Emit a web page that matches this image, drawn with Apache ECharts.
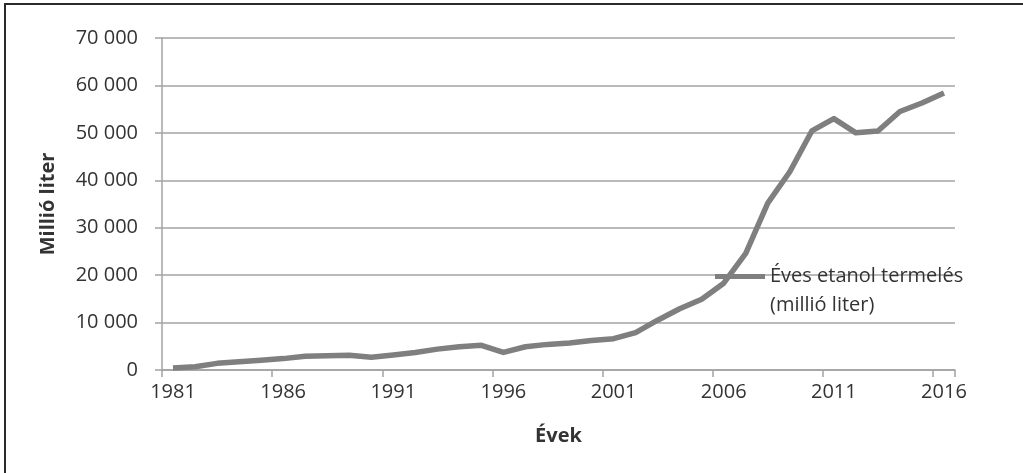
<!DOCTYPE html>
<html>
<head>
<meta charset="utf-8">
<script src="https://cdn.jsdelivr.net/npm/echarts@6/dist/echarts.min.js"></script>
<style>
  html, body { margin: 0; padding: 0; background: #ffffff; }
  #chart { width: 1023px; height: 473px; }
</style>
</head>
<body>
<div id="chart"></div>
<script>
// Annual ethanol production, million litres
const years = [
  '1981','1982','1983','1984','1985','1986','1987','1988','1989','1990',
  '1991','1992','1993','1994','1995','1996','1997','1998','1999','2000',
  '2001','2002','2003','2004','2005','2006','2007','2008','2009','2010',
  '2011','2012','2013','2014','2015','2016'
];
const production = [
  400, 700, 1400, 1750, 2050, 2400, 2900, 3000, 3100, 2700,
  3150, 3700, 4400, 4900, 5200, 3700, 4900, 5400, 5700, 6200,
  6600, 7900, 10500, 12900, 14900, 18300, 24600, 35200, 41800, 50400,
  53000, 50000, 50400, 54500, 56300, 58400
];
const yTickLabels = ['0', '10 000', '20 000', '30 000', '40 000', '50 000', '60 000', '70 000'];

const seriesName = 'Éves etanol termelés (millió liter)';
const FONT = '"Open Sans", sans-serif';
const TEXT = '#333333';
const GRID = '#a3a3a3';
const LINE = '#7f7f7f';
const LEGEND_LH = 29;

const chart = echarts.init(document.getElementById('chart'));
chart.setOption({
  animation: false,
  backgroundColor: '#ffffff',
  textStyle: { fontFamily: FONT },
  graphic: [{
    type: 'rect',
    shape: { x: 5, y: 4, width: 1040, height: 490 },
    style: { fill: 'none', stroke: '#2b2b2b', lineWidth: 2 },
    silent: true
  }],
  grid: { left: 162, right: 68, top: 38, bottom: 103 },
  legend: {
    left: 715,
    top: 233,
    padding: 0,
    icon: 'rect',
    itemWidth: 50,
    itemHeight: 5,
    itemGap: 0,
    textStyle: {
      fontFamily: FONT,
      fontSize: 20,
      color: TEXT,
      lineHeight: LEGEND_LH
    },
    // leading blank line keeps the first text line level with the key
    formatter: () => ' \nÉves etanol termelés\n(millió liter)',
    data: [seriesName]
  },
  xAxis: {
    type: 'category',
    data: years,
    boundaryGap: true,
    name: 'Évek',
    nameLocation: 'middle',
    nameGap: 56,
    nameTextStyle: { fontFamily: FONT, fontSize: 20, fontWeight: 'bold', color: TEXT },
    axisLine: { lineStyle: { color: GRID, width: 1.5 } },
    axisTick: { show: true, interval: 4, length: 7, lineStyle: { color: GRID, width: 1.5 } },
    axisLabel: { interval: 4, margin: 12, fontFamily: FONT, fontSize: 20, color: TEXT }
  },
  yAxis: {
    type: 'value',
    min: 0,
    max: 70000,
    interval: 10000,
    name: 'Millió liter',
    nameLocation: 'middle',
    nameGap: 104,
    nameTextStyle: { fontFamily: FONT, fontSize: 20, fontWeight: 'bold', color: TEXT },
    axisLine: { show: true, lineStyle: { color: GRID, width: 1.5 } },
    axisTick: { show: true, length: 7, lineStyle: { color: GRID, width: 1.5 } },
    axisLabel: {
      margin: 24,
      fontFamily: FONT,
      fontSize: 20,
      color: TEXT,
      formatter: (v) => yTickLabels[Math.round(v / 10000)]
    },
    splitLine: { show: true, lineStyle: { color: GRID, width: 1.5 } }
  },
  series: [{
    name: seriesName,
    type: 'line',
    data: production,
    showSymbol: false,
    symbol: 'none',
    lineStyle: { color: LINE, width: 5.5, join: 'round' },
    itemStyle: { color: LINE }
  }]
});
</script>
</body>
</html>
